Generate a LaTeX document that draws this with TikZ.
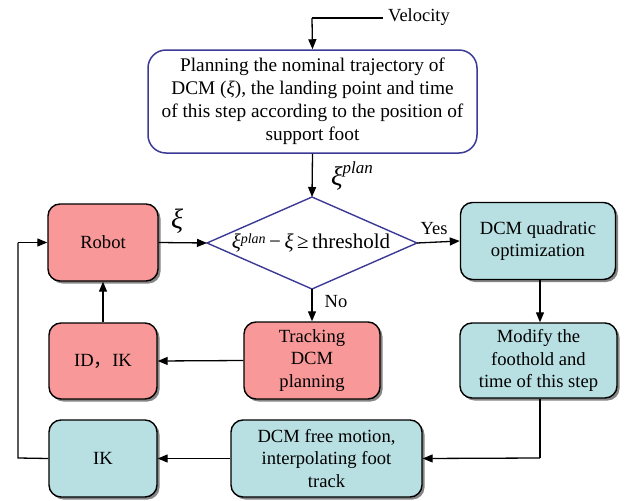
\documentclass[tikz,border=0pt]{standalone}
\usepackage{fontspec}
\setmainfont{Liberation Serif}
\newfontfamily\cjk{Noto Sans CJK SC}
\usetikzlibrary{arrows.meta,shadows}
\definecolor{pinkfill}{RGB}{248,152,152}
\definecolor{tealfill}{RGB}{184,223,226}
\definecolor{planblue}{RGB}{60,58,150}
\tikzset{
  box/.style={draw=black,line width=1.4pt,rounded corners=12pt,align=center,
    inner sep=2pt,font=\rmfamily\fontsize{18.6}{22.5}\selectfont,
    drop shadow={shadow xshift=2.5pt,shadow yshift=-2.5pt,fill=black!60,opacity=0.8}},
  redbox/.style={box,fill=pinkfill},
  tealbox/.style={box,fill=tealfill},
  conn/.style={line width=1.3pt,-{Triangle[length=10pt,width=8pt]}},
  plain/.style={line width=1.3pt},
  lbl/.style={font=\rmfamily\fontsize{18.5}{20}\selectfont,inner sep=0pt}
}
\begin{document}
\begin{tikzpicture}[x=1pt,y=-1pt]
\useasboundingbox (0,0) rectangle (625,501);
% top planning box
\node[draw=planblue,line width=1.5pt,rounded corners=18pt,fill=white,align=center,
  minimum width=329pt,minimum height=103pt,inner sep=2pt,
  font=\rmfamily\fontsize{19.3}{23}\selectfont] (top) at (312.5,101.5)
  {Planning the nominal trajectory of\\DCM (\textit{ξ}), the landing point and time\\of this step according to the position of\\support foot};
% velocity
\coordinate (vs) at (383,18);
\coordinate (vc) at (312,18);
\node[lbl,anchor=west] (vel) at (388,17) {Velocity};
\draw[plain] (vs) -- (vc);
\draw[conn] (vc) -- (top.north);
% diamond
\coordinate (dt) at (312,197);
\coordinate (db) at (312,289);
\coordinate (dl) at (207,243);
\coordinate (dr) at (417,243);
\draw[draw=planblue,line width=1.4pt,fill=white] (dt) -- (dr) -- (db) -- (dl) -- cycle;
\node[inner sep=0pt,font=\rmfamily\fontsize{21}{22}\selectfont] (cond) at (311,243)
  {\textit{ξ}\raisebox{0.6ex}{\fontsize{14}{14}\selectfont\textit{plan}}\,−\,\textit{ξ}\,≥\,threshold};
\draw[conn] (top.south) -- (dt);
\node[inner sep=0pt,font=\rmfamily\fontsize{27}{27}\selectfont] (xiplan) at (352,176)
  {\textit{ξ}\raisebox{1.0ex}{\fontsize{17}{17}\selectfont\textit{plan}}};
% boxes
\node[redbox,minimum width=110pt,minimum height=77pt] (robot) at (103,242.5) {Robot};
\node[tealbox,minimum width=155pt,minimum height=77pt] (quad) at (538,241) {DCM quadratic\\optimization};
\node[tealbox,minimum width=157pt,minimum height=75pt] (modify) at (538.5,360.5) {Modify the\\foothold and\\time of this step};
\node[redbox,minimum width=136pt,minimum height=77pt] (track) at (312,360.5) {Tracking\\DCM\\planning};
\node[redbox,minimum width=108pt,minimum height=76pt] (idik) at (103,361) {ID{\cjk ，}IK};
\node[tealbox,minimum width=108pt,minimum height=77pt] (ik) at (103,458.5) {IK};
\node[tealbox,minimum width=191pt,minimum height=77pt] (free) at (326.5,458.5) {DCM free motion,\\interpolating foot\\track};
% connectors
\draw[conn] (robot.east) -- (dl);
\node[inner sep=0pt,font=\rmfamily\fontsize{28}{28}\selectfont] (xi) at (177,221) {\textit{ξ}};
\draw[conn] (dr) -- (quad.west);
\node[lbl] (yes) at (434,229) {Yes};
\draw[conn] (db) -- (track.north);
\node[lbl] (no) at (336,302) {No};
\draw[conn] (quad.south -| 540,0) -- (modify.north -| 540,0);
\coordinate (mc) at (540,458);
\draw[plain] (modify.south -| mc) -- (mc);
\draw[conn] (mc) -- (free.east);
\draw[conn] (free.west) -- (ik.east);
\coordinate (lb) at (18,458);
\coordinate (lt) at (18,242.5);
\draw[plain] (ik.west) -- (lb) -- (lt);
\draw[conn] (lt) -- (robot.west);
\draw[conn] (track.west) -- (idik.east);
\draw[conn] (idik.north) -- (robot.south);
\end{tikzpicture}
\end{document}
